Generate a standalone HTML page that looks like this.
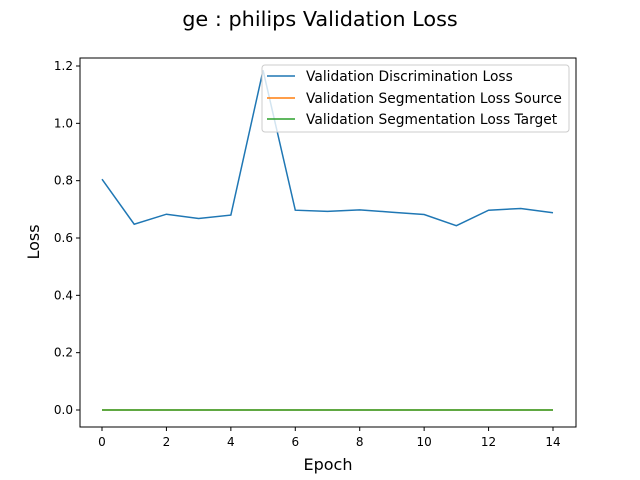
<!DOCTYPE html>
<html><head><meta charset="utf-8"><style>body{margin:0;background:#fff}svg{display:block;font-family:"DejaVu Sans","Liberation Sans",sans-serif}</style></head>
<body>
<svg width="640" height="480">
<text x="320" y="26" font-size="20.8" text-anchor="middle">ge : philips Validation Loss</text>
<rect x="80" y="58" width="496" height="369" fill="none" stroke="#000" stroke-width="1"/>
<g id="axes"></g>
<g id="series"></g>
<text x="328" y="470" font-size="16" text-anchor="middle">Epoch</text>
<text x="39" y="242" font-size="16" text-anchor="middle" transform="rotate(-90 39 242)">Loss</text>
<g>
<rect x="262" y="65" width="307" height="67" fill="#fff" fill-opacity="0.8" stroke="#ccc" rx="3"/>
<line x1="267" x2="295" y1="76" y2="76" stroke="#1f77b4" stroke-width="1.5"/>
<text x="306" y="81" font-size="13.8">Validation Discrimination Loss</text>
<line x1="267" x2="295" y1="98" y2="98" stroke="#ff7f0e" stroke-width="1.5"/>
<text x="306" y="103" font-size="13.8">Validation Segmentation Loss Source</text>
<line x1="267" x2="295" y1="119" y2="119" stroke="#2ca02c" stroke-width="1.5"/>
<text x="306" y="124" font-size="13.8">Validation Segmentation Loss Target</text>
</g>
</svg>
<script>
const epochs=[0,1,2,3,4,5,6,7,8,9,10,11,12,13,14];
const discLoss=[0.805,0.648,0.683,0.668,0.680,1.185,0.697,0.693,0.698,0.690,0.682,0.643,0.697,0.703,0.688];
const segSource=[0,0,0,0,0,0,0,0,0,0,0,0,0,0,0];
const segTarget=[0,0,0,0,0,0,0,0,0,0,0,0,0,0,0];
const xTicks=[0,2,4,6,8,10,12,14];
const yTicks=[0.0,0.2,0.4,0.6,0.8,1.0,1.2];
const NS="http://www.w3.org/2000/svg";
function xs(v){return 102+v*(553-102)/14;}
function ys(v){return 410-v*(410-66)/1.2;}
const ax=document.getElementById('axes');
function mk(t,a,p){const e=document.createElementNS(NS,t);for(const k in a)e.setAttribute(k,a[k]);p.appendChild(e);return e;}
xTicks.forEach(t=>{
 const l=mk('line',{x1:xs(t),x2:xs(t),y1:427,y2:431,stroke:'#000'},ax);
 
 
 const tx=mk('text',{x:xs(t),y:446,'font-size':12,'text-anchor':'middle'},ax);tx.textContent=t;
 
 
});
yTicks.forEach(t=>{
 const l=mk('line',{x1:76,x2:80,y1:ys(t),y2:ys(t),stroke:'#000'},ax);
 
 
 const tx=mk('text',{x:73,y:ys(t)+4,'font-size':12,'text-anchor':'end'},ax);tx.textContent=t.toFixed(1);
 
 
});
const sg=document.getElementById('series');
[[discLoss,'#1f77b4','line-discrimination'],[segSource,'#ff7f0e','line-seg-source'],[segTarget,'#2ca02c','line-seg-target']].forEach(([d,c,n])=>{
 const p=mk('polyline',{points:d.map((v,i)=>xs(epochs[i])+','+ys(v)).join(' '),fill:'none',stroke:c,'stroke-width':1.5},sg);
 
 
});
</script>
</body></html>
